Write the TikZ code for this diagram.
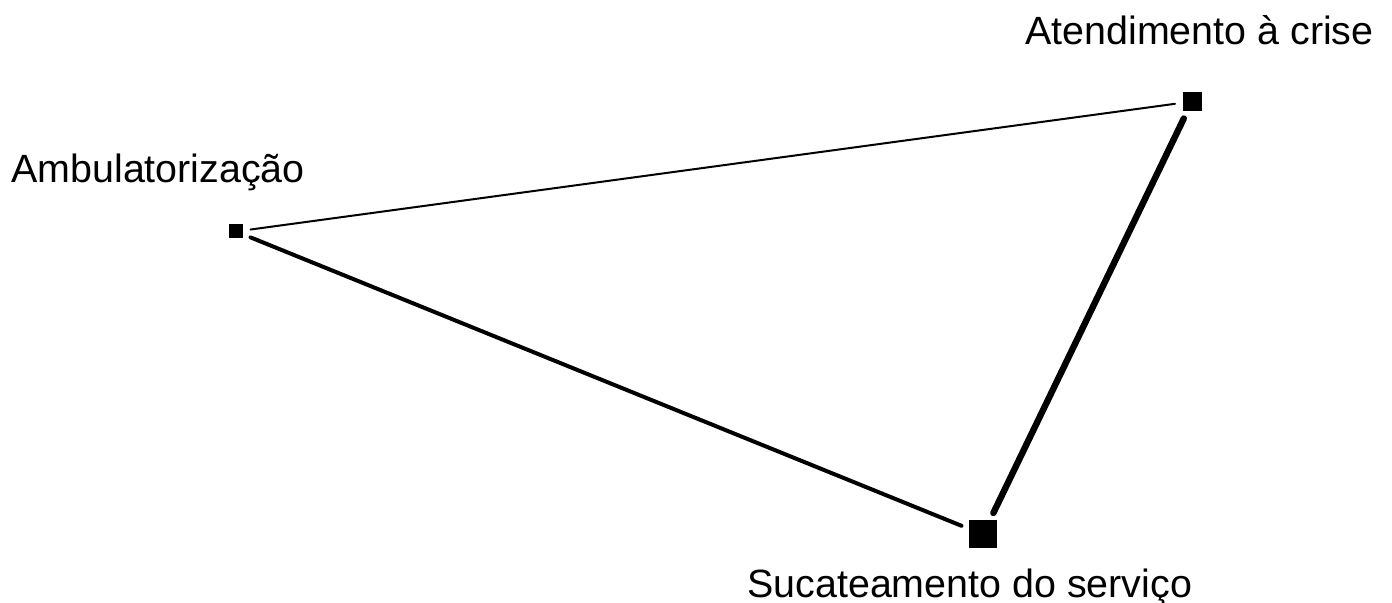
\documentclass[tikz,border=0pt]{standalone}
\usepackage{fontspec}
\setmainfont{Liberation Sans}
\usetikzlibrary{calc, positioning}
\tikzset{
    spot/.style = {
        fill=black, rectangle, inner sep=0pt, outer sep=3.75pt
    },
    spotlabel/.style = {
        font=\fontsize{19.7}{23}\selectfont, inner sep=0pt, anchor=base west
    },
    tie/.style = {
        line cap=round
    }
}

\begin{document}
\begin{tikzpicture}[x=0.5pt, y=-0.5pt]
        \useasboundingbox (0, 0) rectangle (1392, 603);
        % Place the squares
        \node [spot, minimum size=7pt] (amb) at (236, 231.5) {};
        \node [spot, minimum size=9.5pt] (atd) at (1192, 101.5) {};
        \node [spot, minimum size=14pt] (suc) at (983, 534.5) {};
        % Place the labels
        \node [spotlabel] (ambtxt) at (11, 183) {Ambulatorização};
        \node [spotlabel] (atdtxt) at (1025, 45) {Atendimento à crise};
        \node [spotlabel] (suctxt) at (747, 597) {Sucateamento do serviço};
        % Ties between them
        \draw [tie, line width=1pt] (amb) -- (atd);
        \draw [tie, line width=2pt] (amb) -- (suc);
        \draw [tie, line width=3.2pt] (atd) -- (suc);
    \end{tikzpicture}
\end{document}
